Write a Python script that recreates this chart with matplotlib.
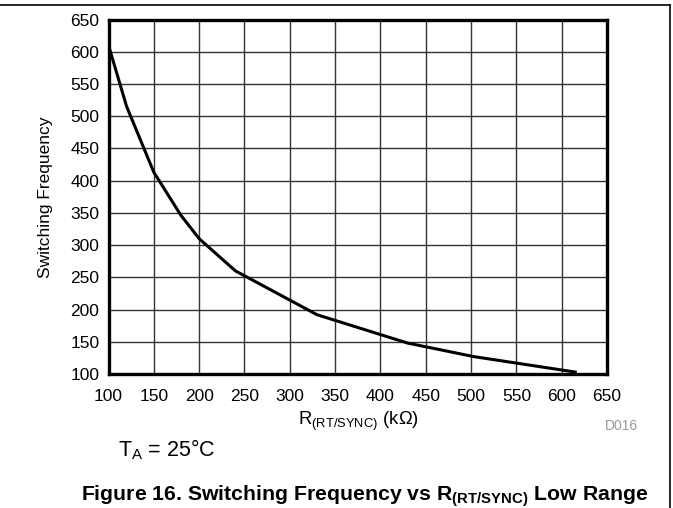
import numpy as np
import matplotlib
matplotlib.use('Agg')
import matplotlib.pyplot as plt
from matplotlib.lines import Line2D

plt.rcParams['font.family'] = ['Liberation Sans', 'DejaVu Sans']
plt.rcParams['mathtext.fontset'] = 'custom'
plt.rcParams['mathtext.rm'] = 'Liberation Sans'
plt.rcParams['mathtext.it'] = 'Liberation Sans:italic'
plt.rcParams['mathtext.bf'] = 'Liberation Sans:bold'

# data
r_sync = [100, 120, 150, 180, 200, 240, 330, 430, 503, 615]
f_sw = [610, 515, 413, 346, 310, 260, 192, 148, 127, 103]
x_ticks = [100, 150, 200, 250, 300, 350, 400, 450, 500, 550, 600, 650]
y_ticks = [100, 150, 200, 250, 300, 350, 400, 450, 500, 550, 600, 650]

W, H = 673, 508
fig = plt.figure(figsize=(W / 100, H / 100), dpi=100)
ax = fig.add_axes([108.5 / W, 1 - 374 / H, 498.5 / W, 354.5 / H])

ax.plot(r_sync, f_sw, color='black', lw=2.2, solid_joinstyle='miter')
ax.set_xlim(100, 650)
ax.set_ylim(100, 650)
ax.set_xticks(x_ticks)
ax.set_yticks(y_ticks)
ax.tick_params(length=0, labelsize=12.5, colors='black')
ax.tick_params(axis='x', pad=10.5)
ax.tick_params(axis='y', pad=6.5)
ax.grid(True, color='#333333', lw=1)
ax.set_axisbelow(True)
for s in ax.spines.values():
    s.set_linewidth(2.4)
    s.set_color('black')

fig.text(46 / W, 1 - 197 / H, 'Switching Frequency', fontsize=12.5,
         rotation=90, ha='center', va='center')
fig.text(358 / W, 1 - 421 / H, r'R$_{\mathregular{(RT/SYNC)}}$ (k$\Omega$)',
         fontsize=13.3, ha='center', va='center')

fig.text(621 / W, 1 - 426.5 / H, 'D016', fontsize=10, color='#999999',
         ha='center', va='center')
fig.text(118 / W, 1 - 450 / H, r'T$_{\mathregular{A}}$ = 25°C', fontsize=15.5,
         ha='left', va='center')
fig.text(365 / W, 1 - 496 / H,
         r'Figure 16. Switching Frequency vs R$_{\mathbf{(RT/SYNC)}}$ Low Range',
         fontsize=15.3, fontweight='bold', ha='center', va='center')

# page frame lines
fig.add_artist(Line2D([0, 670 / W], [1 - 4.5 / H] * 2, color='black', lw=1.2,
                      transform=fig.transFigure))
fig.add_artist(Line2D([670 / W] * 2, [0, 1 - 4.5 / H], color='black', lw=1.2,
                      transform=fig.transFigure))

fig.savefig('out.png', dpi=100)
